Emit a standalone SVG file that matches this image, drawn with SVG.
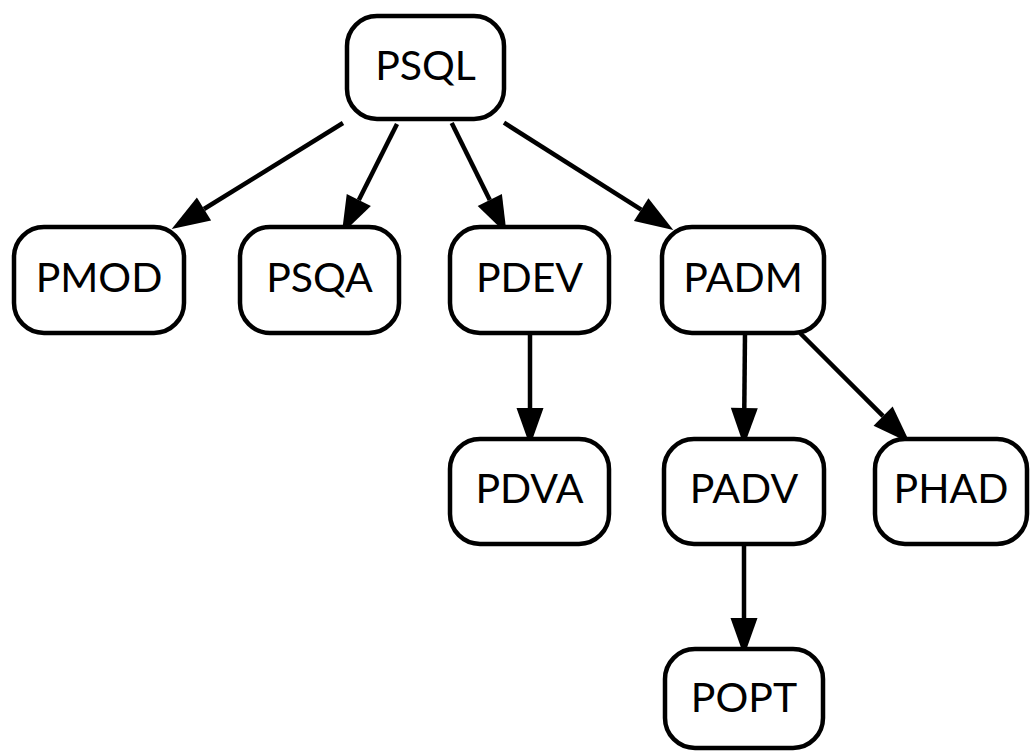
<svg xmlns="http://www.w3.org/2000/svg" width="1030" height="751" viewBox="0 0 1030 751">
<defs>
<style>
.node rect{fill:#fff;stroke:#000;stroke-width:4.5}
.node text{font-family:Lato,"Liberation Sans",sans-serif;font-size:41px;fill:#000;text-anchor:middle}
.edge{stroke:#000;stroke-width:4.5;fill:none;marker-end:url(#ah)}
</style>
<marker id="ah" markerUnits="userSpaceOnUse" markerWidth="40" markerHeight="30" refX="0" refY="13.5" orient="auto" overflow="visible">
<path d="M0,0 L38,13.5 L0,27 Z" fill="#000"/>
</marker>
</defs>
<rect width="1030" height="751" fill="#fff"/>
<g id="connectors">
<line class="edge" x1="343" y1="123" x2="204" y2="209"/>
<line class="edge" x1="397" y1="124" x2="358.8" y2="200"/>
<line class="edge" x1="451.7" y1="123" x2="489.8" y2="200"/>
<line class="edge" x1="504" y1="122.7" x2="641.2" y2="209.7"/>
<line class="edge" x1="530" y1="333" x2="530" y2="408"/>
<line class="edge" x1="745" y1="333" x2="744.3" y2="408"/>
<line class="edge" x1="800" y1="333" x2="883.1" y2="416.1"/>
<line class="edge" x1="744" y1="545" x2="744" y2="618"/>
</g>
<g id="PSQL" class="node"><rect x="347" y="16" width="157" height="103" rx="30"/><text x="425.5" y="80">PSQL</text></g>
<g id="PMOD" class="node"><rect x="14" y="227" width="170" height="106" rx="30"/><text x="99" y="292">PMOD</text></g>
<g id="PSQA" class="node"><rect x="240" y="227" width="159" height="106" rx="30"/><text x="319.5" y="292">PSQA</text></g>
<g id="PDEV" class="node"><rect x="450" y="227" width="159" height="106" rx="30"/><text x="529.5" y="292">PDEV</text></g>
<g id="PADM" class="node"><rect x="662" y="227" width="162" height="106" rx="30"/><text x="743" y="292">PADM</text></g>
<g id="PDVA" class="node"><rect x="450" y="439" width="159" height="105" rx="30"/><text x="529.5" y="503">PDVA</text></g>
<g id="PADV" class="node"><rect x="664" y="439" width="160" height="105" rx="30"/><text x="744" y="503">PADV</text></g>
<g id="PHAD" class="node"><rect x="875" y="439" width="152" height="105" rx="30"/><text x="951" y="503">PHAD</text></g>
<g id="POPT" class="node"><rect x="665" y="649" width="158" height="99" rx="30"/><text x="744" y="712">POPT</text></g>
</svg>
